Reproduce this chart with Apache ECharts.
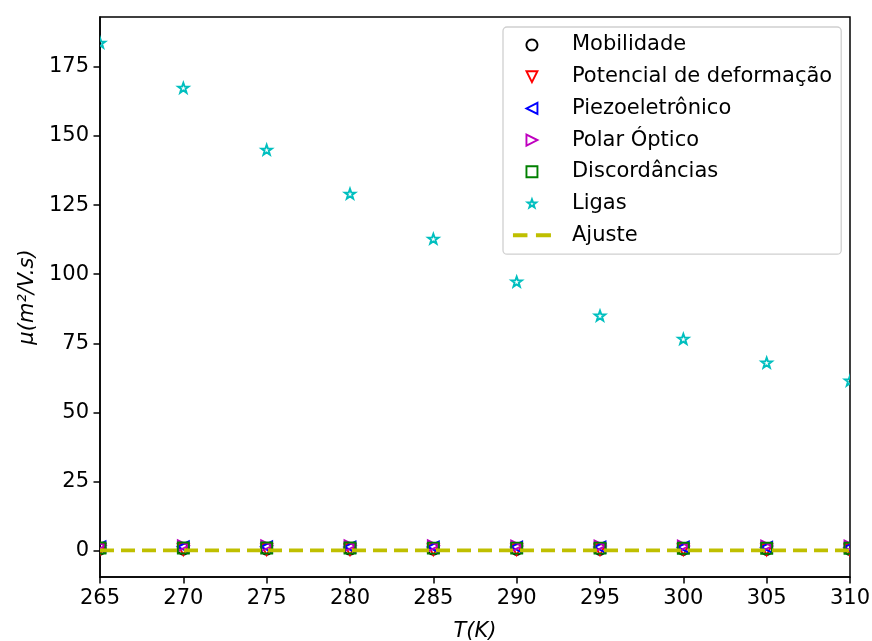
<!DOCTYPE html>
<html>
<head>
<meta charset="utf-8">
<script src="https://cdn.jsdelivr.net/npm/echarts@6/dist/echarts.min.js"></script>
<style>
  html, body { margin: 0; padding: 0; background: #fff; }
  #chart { width: 872px; height: 641px; }
</style>
</head>
<body>
<div id="chart"></div>
<script>
// Temperature (K)
const temperatures = [265, 270, 275, 280, 285, 290, 295, 300, 305, 310];

// Mobility contributions, m^2/(V.s)
const mobilidade    = [0.60, 0.58, 0.57, 0.55, 0.54, 0.52, 0.51, 0.50, 0.49, 0.48];
const potencial     = [0.45, 0.43, 0.42, 0.40, 0.39, 0.38, 0.37, 0.36, 0.35, 0.34];
const piezo         = [1.45, 1.42, 1.40, 1.38, 1.36, 1.34, 1.32, 1.30, 1.28, 1.26];
const polarOptico   = [1.85, 1.82, 1.80, 1.78, 1.76, 1.74, 1.72, 1.70, 1.68, 1.66];
const discordancias = [1.00, 0.98, 0.97, 0.96, 0.95, 0.94, 0.93, 0.92, 0.91, 0.90];
const ligas         = [183.7, 167.4, 145.0, 129.1, 112.8, 97.3, 85.0, 76.6, 68.0, 61.5];
const ajuste        = [0.10, 0.10, 0.10, 0.10, 0.10, 0.10, 0.10, 0.10, 0.10, 0.10];

// Y tick labels
const yTicks = [0, 25, 50, 75, 100, 125, 150, 175];

const FONT = 'DejaVu Sans';

// Marker outlines in a 10x10 box
function starPathData() {
  const pts = [];
  for (let i = 0; i < 10; i++) {
    const r = i % 2 === 0 ? 5 : 2.0;
    const a = -Math.PI / 2 + i * Math.PI / 5;
    pts.push((5 + r * Math.cos(a)).toFixed(3) + ',' + (5.4 + r * Math.sin(a)).toFixed(3));
  }
  return 'M' + pts.join(' L') + ' Z';
}
function circlePathData() {
  const pts = [];
  for (let i = 0; i < 40; i++) {
    const a = i * Math.PI * 2 / 40;
    pts.push((5 + 5 * Math.cos(a)).toFixed(3) + ',' + (5 + 5 * Math.sin(a)).toFixed(3));
  }
  return 'M' + pts.join(' L') + ' Z';
}
const SHAPES = {
  circle:   circlePathData(),
  triDown:  'M0,0 L10,0 L5,10 Z',
  triLeft:  'M10,0 L10,10 L0,5 Z',
  triRight: 'M0,0 L0,10 L10,5 Z',
  square:   'M0,0 L10,0 L10,10 L0,10 Z',
  star:     starPathData()
};

// Legend icon box is 38x13; a marker of size s is centred in it
function legendIcon(shape, s) {
  const ox = 19 - s / 2, oy = 6.5 - s / 2, k = s / 10;
  const scaled = SHAPES[shape].replace(/(-?\d+(?:\.\d+)?),(-?\d+(?:\.\d+)?)/g,
    (m, x, y) => (ox + parseFloat(x) * k).toFixed(3) + ',' + (oy + parseFloat(y) * k).toFixed(3));
  return 'path://M0,0 M38,13 ' + scaled;
}

const pairs = arr => temperatures.map((t, i) => [t, arr[i]]);

function markerSeries(name, data, shape, color, size) {
  return {
    name: name,
    type: 'custom',
    coordinateSystem: 'cartesian2d',
    clip: true,
    data: pairs(data),
    encode: { x: 0, y: 1 },
    itemStyle: { color: color },
    emphasis: { disabled: true },
    renderItem: function (params, api) {
      const p = api.coord([api.value(0), api.value(1)]);
      return {
        type: 'path',
        shape: { pathData: SHAPES[shape], x: p[0] - size / 2, y: p[1] - size / 2, width: size, height: size },
        style: { fill: 'none', stroke: color, lineWidth: 1.9, lineJoin: 'miter' }
      };
    }
  };
}

const legendEntries = [
  ['Mobilidade', 'circle', '#000000', 11],
  ['Potencial de deformação', 'triDown', '#ff0000', 11],
  ['Piezoeletrônico', 'triLeft', '#0000ff', 11],
  ['Polar Óptico', 'triRight', '#bf00bf', 11],
  ['Discordâncias', 'square', '#008000', 11],
  ['Ligas', 'star', '#00bfbf', 9]
];
const legendData = legendEntries.map(e => ({
  name: e[0],
  icon: legendIcon(e[1], e[3]),
  itemStyle: { color: 'rgba(0,0,0,0)', borderColor: e[2], borderWidth: 1.9 }
}));
legendData.push({
  name: 'Ajuste',
  icon: 'path://M0,0 M38,13 M0,4.5 L14.5,4.5 L14.5,8.5 L0,8.5 Z M23,4.5 L38,4.5 L38,8.5 L23,8.5 Z',
  itemStyle: { color: '#bfbf00', borderWidth: 0 }
});

const chart = echarts.init(document.getElementById('chart'), null, { renderer: 'canvas' });
chart.setOption({
  animation: false,
  backgroundColor: '#fff',
  grid: {
    left: 100, right: 22, top: 17, bottom: 64, containLabel: false,
    outerBoundsMode: 'none',
    show: true, borderColor: '#000', borderWidth: 1.5, backgroundColor: 'transparent'
  },
  xAxis: {
    type: 'value',
    min: 265, max: 310, interval: 5,
    name: 'T(K)',
    nameLocation: 'middle',
    nameGap: 44,
    nameTextStyle: { fontFamily: FONT, fontSize: 21, fontStyle: 'italic', color: '#000' },
    axisLine: { onZero: false, lineStyle: { color: '#000', width: 1.5 } },
    axisTick: { length: 6.5, lineStyle: { color: '#000', width: 1.5 } },
    axisLabel: { fontFamily: FONT, fontSize: 21, color: '#000', margin: 11 },
    splitLine: { show: false }
  },
  yAxis: {
    type: 'value',
    min: -9.5, max: 193,
    name: 'μ(m²/V.s)',
    nameLocation: 'middle',
    nameGap: 62,
    nameTextStyle: { fontFamily: FONT, fontSize: 21, fontStyle: 'italic', color: '#000' },
    axisLine: { show: true, onZero: false, lineStyle: { color: '#000', width: 1.5 } },
    axisTick: { show: true, length: 6.5, customValues: yTicks, lineStyle: { color: '#000', width: 1.5 } },
    axisLabel: { fontFamily: FONT, fontSize: 21, color: '#000', margin: 11, customValues: yTicks },
    splitLine: { show: false }
  },
  legend: {
    orient: 'vertical',
    left: 503, top: 27,
    padding: [7, 9, 8, 9],
    backgroundColor: '#fff',
    borderColor: '#d0d0d0',
    borderWidth: 1.3,
    borderRadius: 4,
    itemWidth: 38,
    itemHeight: 13,
    itemGap: 9.7,
    selectedMode: false,
    textStyle: { fontFamily: FONT, fontSize: 21, color: '#000', lineHeight: 22, padding: [0, 0, 0, 16] },
    data: legendData
  },
  series: [
    markerSeries('Mobilidade', mobilidade, 'circle', '#000000', 11),
    markerSeries('Potencial de deformação', potencial, 'triDown', '#ff0000', 11),
    markerSeries('Piezoeletrônico', piezo, 'triLeft', '#0000ff', 11),
    markerSeries('Polar Óptico', polarOptico, 'triRight', '#bf00bf', 11),
    markerSeries('Discordâncias', discordancias, 'square', '#008000', 11),
    markerSeries('Ligas', ligas, 'star', '#00bfbf', 10.5),
    {
      name: 'Ajuste',
      type: 'line',
      data: pairs(ajuste),
      showSymbol: false,
      symbol: 'none',
      clip: true,
      z: 3,
      lineStyle: { color: '#bfbf00', width: 3.8, type: [14, 7] },
      itemStyle: { color: '#bfbf00' },
      emphasis: { disabled: true }
    }
  ]
});
</script>
</body>
</html>
